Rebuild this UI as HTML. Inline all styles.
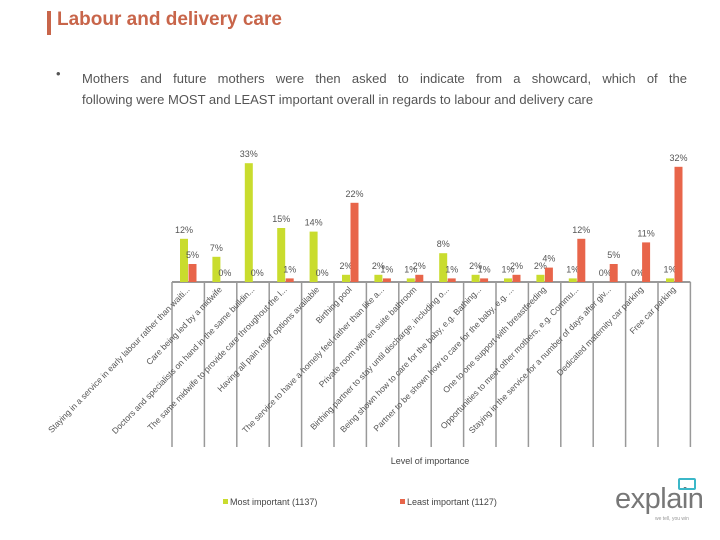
<!DOCTYPE html>
<html><head><meta charset="utf-8"><style>
body{margin:0;width:720px;height:540px;background:#fff;font-family:"Liberation Sans",sans-serif;overflow:hidden;position:relative}
.t{position:absolute}
</style></head><body>
<div class="t" style="left:47px;top:11px;width:4px;height:24px;background:#C8654A"></div>
<div class="t" style="left:57px;top:9px;font-size:19px;color:#C8654A;font-weight:bold">Labour and delivery care</div>
<div class="t" style="left:56px;top:66px;font-size:13px;color:#555">•</div>
<div class="t" style="left:82px;top:66px;width:605px;font-size:13px;line-height:25px;color:#555;text-align:justify;text-align-last:justify">Mothers and future mothers were then asked to indicate from a showcard, which of the</div>
<div class="t" style="left:82px;top:91px;font-size:13px;line-height:18px;color:#555">following were MOST and LEAST important overall in regards to labour and delivery care</div>
<svg id="chart" class="t" style="left:0;top:0" width="720" height="540"></svg>
<div class="t" style="left:615px;top:483px;font-size:29px;color:#777;letter-spacing:-0.5px">explain</div>
<div class="t" style="left:678px;top:478px;width:14px;height:8px;border:2px solid #3BB7C8;border-radius:2px"></div>
<div class="t" style="left:655px;top:516px;font-size:5px;color:#999">we tell, you win</div>
<script>
const categories=["Staying in a service in early labour rather than waiti...","Care being led by a midwife","Doctors and specialists on hand in the same buildin...","The same midwife to provide care throughout the l...","Having all pain relief options available","Birthing pool","The service to have a homely feel rather than like a...","Private room with en suite bathroom","Birthing partner to stay until discharge, including o...","Being shown how to care for the baby, e.g. Bathing...","Partner to be shown how to care for the baby, e.g. ...","One to one support with breastfeeding","Opportunities to meet other mothers, e.g. Commu...","Staying in the service for a number of days after giv...","Dedicated maternity car parking","Free car parking"];
const mostImportant=[12,7,33,15,14,2,2,1,8,2,1,2,1,0,0,1];
const leastImportant=[5,0,0,1,0,22,1,2,1,1,2,4,12,5,11,32];
const svg=document.getElementById('chart');
const NS='http://www.w3.org/2000/svg';
const x0=172,bw=32.4,base=282,ppu=3.6;
const xs=i=>x0+i*bw;
const ys=v=>base-v*ppu;
function mk(tag,attrs){const e=document.createElementNS(NS,tag);for(const k in attrs)e.setAttribute(k,attrs[k]);svg.appendChild(e);return e;}
let ax=mk('line',{x1:x0,y1:base,x2:xs(categories.length),y2:base,stroke:'#999','stroke-width':2});


for(let i=0;i<=categories.length;i++){
 const g=mk('line',{x1:xs(i),y1:base,x2:xs(i),y2:447,stroke:'#999','stroke-width':1.5});
 
 
}
function bar(v,x,color,name){
 const r=mk('rect',{x:x,y:ys(v),width:8,height:v*ppu,fill:color});
 
 
 const t=mk('text',{x:x+4,y:ys(v)-6,'font-size':9,'text-anchor':'middle',fill:'#555','font-family':'Liberation Sans, sans-serif'});
 t.textContent=v+'%';
 
 
}
categories.forEach((c,i)=>{
 bar(mostImportant[i],xs(i)+8,'#C9DC2E','bar-most-important');
 bar(leastImportant[i],xs(i)+16.5,'#E8654A','bar-least-important');
 const cx=xs(i)+bw/2+2;
 const t=mk('text',{x:cx,y:290,'font-size':8.5,'text-anchor':'end',fill:'#555',transform:`rotate(-46 ${cx} 290)`,'font-family':'Liberation Sans, sans-serif'});
 t.textContent=c;
 
 
});
let at=mk('text',{x:430,y:464,'font-size':9,'text-anchor':'middle',fill:'#444','font-family':'Liberation Sans, sans-serif'});
at.textContent='Level of importance';


const leg=[['#C9DC2E','Most important (1137)',223],['#E8654A','Least important (1127)',400]];
leg.forEach(l=>{
 const r=mk('rect',{x:l[2],y:499,width:5,height:5,fill:l[0]});
 
 
 const t=mk('text',{x:l[2]+7,y:505,'font-size':9,fill:'#444','font-family':'Liberation Sans, sans-serif'});
 t.textContent=l[1];
 
 
});
</script>
</body></html>
